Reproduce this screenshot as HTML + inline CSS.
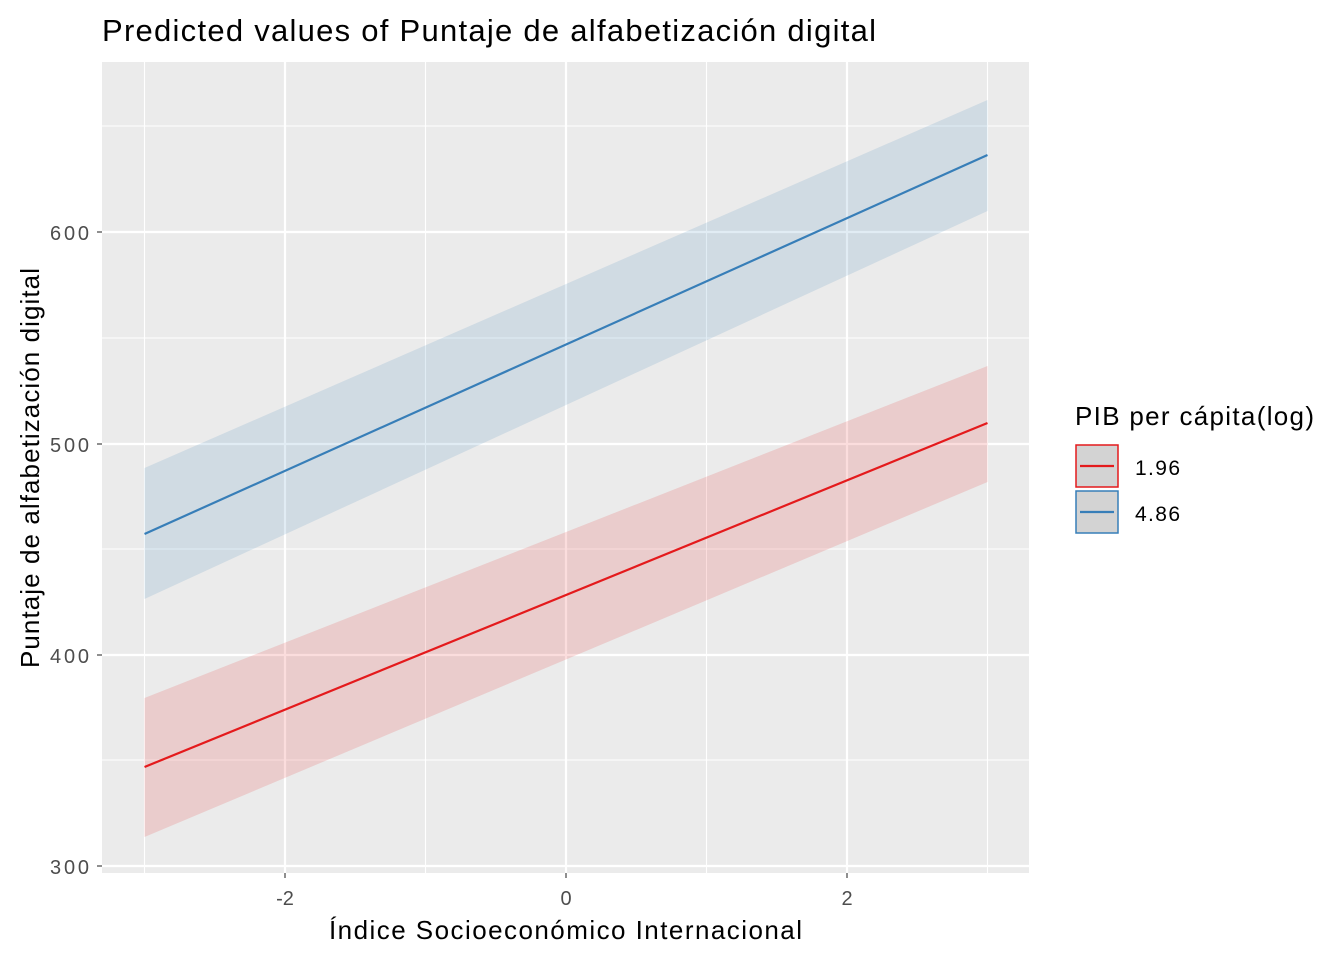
<!DOCTYPE html>
<html><head><meta charset="utf-8"><style>body{margin:0;background:#fff}svg{display:block}text{font-family:"Liberation Sans",Arial,sans-serif}</style></head><body>
<svg width="1344" height="960" xmlns="http://www.w3.org/2000/svg">
<rect width="1344" height="960" fill="#fff"/>
<rect x="102" y="62" width="927" height="811" fill="#ebebeb"/>
<g stroke="#fff" stroke-width="1.1">
<line x1="102" x2="1029" y1="126" y2="126"/><line x1="102" x2="1029" y1="338" y2="338"/><line x1="102" x2="1029" y1="549" y2="549"/><line x1="102" x2="1029" y1="760" y2="760"/>
<line y1="62" y2="873" x1="144.5" x2="144.5"/><line y1="62" y2="873" x1="425.5" x2="425.5"/><line y1="62" y2="873" x1="706.5" x2="706.5"/><line y1="62" y2="873" x1="987.5" x2="987.5"/>
</g>
<g stroke="#fff" stroke-width="2.2">
<line x1="102" x2="1029" y1="232" y2="232"/><line x1="102" x2="1029" y1="444" y2="444"/><line x1="102" x2="1029" y1="655" y2="655"/><line x1="102" x2="1029" y1="866" y2="866"/>
<line y1="62" y2="873" x1="285" x2="285"/><line y1="62" y2="873" x1="566" x2="566"/><line y1="62" y2="873" x1="847" x2="847"/>
</g>
<polygon points="144.5,468 987.5,100 987.5,211 144.5,599" fill="#377eb8" fill-opacity="0.15"/>
<polygon points="144.5,698 987.5,366 987.5,482 144.5,837" fill="#e41a1c" fill-opacity="0.15"/>
<line x1="144.5" y1="534" x2="987.5" y2="155" stroke="#377eb8" stroke-width="2.2"/>
<line x1="144.5" y1="767" x2="987.5" y2="423" stroke="#e41a1c" stroke-width="2.2"/>
<g stroke="#333" stroke-width="1.1">
<line x1="97" x2="102" y1="232" y2="232"/><line x1="97" x2="102" y1="444" y2="444"/><line x1="97" x2="102" y1="655" y2="655"/><line x1="97" x2="102" y1="866" y2="866"/>
<line y1="873" y2="878" x1="285" x2="285"/><line y1="873" y2="878" x1="566" x2="566"/><line y1="873" y2="878" x1="847" x2="847"/>
</g>
<g font-size="20" fill="#4d4d4d" text-anchor="end">
<text x="89" y="240" textLength="39">600</text><text x="89" y="452" textLength="39">500</text><text x="89" y="663" textLength="39">400</text><text x="89" y="874" textLength="39">300</text>
</g>
<g font-size="20" fill="#4d4d4d" text-anchor="middle">
<text x="285" y="905">-2</text><text x="566" y="905">0</text><text x="847" y="905">2</text>
</g>
<text x="329" y="939" font-size="26" textLength="473">Índice Socioeconómico Internacional</text>
<text transform="translate(39,668) rotate(-90)" font-size="26" textLength="400">Puntaje de alfabetización digital</text>
<text x="102" y="41" font-size="31" textLength="774">Predicted values of Puntaje de alfabetización digital</text>
<text x="1075" y="425" font-size="26" textLength="239">PIB per cápita(log)</text>
<rect x="1076" y="445" width="42" height="42" fill="#d3d3d3" stroke="#e41a1c" stroke-width="1.5"/>
<line x1="1080" x2="1114" y1="466" y2="466" stroke="#e41a1c" stroke-width="2.2"/>
<rect x="1076" y="491" width="42" height="42" fill="#d3d3d3" stroke="#377eb8" stroke-width="1.5"/>
<line x1="1080" x2="1114" y1="512" y2="512" stroke="#377eb8" stroke-width="2.2"/>
<text x="1135" y="475" font-size="21" textLength="45">1.96</text>
<text x="1135" y="521" font-size="21" textLength="45">4.86</text>
</svg>
</body></html>
